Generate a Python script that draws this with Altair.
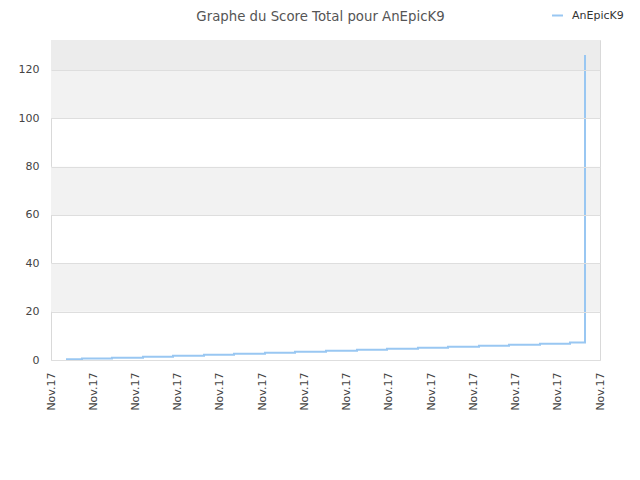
import json
import altair as alt
import pandas as pd

title_text = "Graphe du Score Total pour AnEpicK9"
series_name = "AnEpicK9"

# x positions in tick units (0..13), each tick labelled "Nov.17"
x_ticks = list(range(14))
x_tick_labels = ["Nov.17"] * 14
y_ticks = [0, 20, 40, 60, 80, 100, 120]

step_x = [0.355, 0.734, 1.444, 2.179, 2.889, 3.623, 4.333, 5.067, 5.778,
          6.512, 7.246, 7.956, 8.690, 9.401, 10.135, 10.845, 11.579, 12.290]
step_y = [0.3, 0.6, 0.95, 1.35, 1.75, 2.15, 2.6, 3.0, 3.45,
          3.85, 4.25, 4.7, 5.1, 5.5, 5.9, 6.3, 6.75, 7.2]
jump_x = 12.645
jump_y = [21.8, 41.0, 66.1, 93.8, 126.2]

band_lo = [20, 60, 100, 120]
band_hi = [40, 80, 120, 132.4]
band_col = ["#f2f2f2", "#f2f2f2", "#f2f2f2", "#ececec"]

xs = step_x + [jump_x] * len(jump_y)
ys = step_y + jump_y
line_df = pd.DataFrame({"x": xs, "y": ys, "i": list(range(len(xs))),
                        "s": [series_name] * len(xs)})
band_df = pd.DataFrame({"lo": band_lo, "hi": band_hi, "c": band_col})

FONT = "DejaVu Sans"
ydom = [0, 132.4]
xscale = alt.Scale(domain=[0, 13], nice=False, zero=False)
yscale = alt.Scale(domain=ydom, nice=False, zero=False)

yaxis = alt.Axis(values=y_ticks, ticks=False, domain=False, labelPadding=12,
                 labelFont=FONT, labelFontSize=11, labelColor="#444444",
                 gridColor="#dedede", zindex=1)

bands = alt.Chart(band_df).mark_rect(strokeWidth=0).encode(
    x=alt.value(0), x2=alt.value(549),
    y=alt.Y("lo:Q", scale=yscale, axis=yaxis, title=None),
    y2="hi:Q",
    fill=alt.Fill("c:N", scale=None, legend=None),
)

label_expr = json.dumps(x_tick_labels) + "[datum.value]"

line = alt.Chart(line_df).mark_line(interpolate="step-after", strokeWidth=2).encode(
    x=alt.X("x:Q", scale=xscale, title=None,
            axis=alt.Axis(values=x_ticks, labelExpr=label_expr, labelAngle=-90,
                          labelAlign="right", labelBaseline="middle",
                          labelPadding=12, ticks=False, domain=False, grid=False,
                          labelFont=FONT, labelFontSize=11, labelColor="#444444")),
    y=alt.Y("y:Q", scale=yscale, title=None, axis=yaxis),
    order="i:Q",
    color=alt.Color("s:N", scale=alt.Scale(range=["#99c7f2"]), title=None,
                    legend=alt.Legend(orient="none", legendX=500, legendY=-31,
                                      symbolType="stroke", symbolStrokeWidth=2,
                                      symbolSize=120, padding=0, labelOffset=8,
                                      labelFont=FONT, labelFontSize=11,
                                      labelColor="#333333")),
)

chart = alt.layer(bands, line).resolve_scale(color="independent").properties(
    width=549, height=320,
    autosize="none",
    padding={"left": 43, "top": 32, "right": 24, "bottom": 100},
    title=alt.Title(title_text, font=FONT, fontSize=13.3, fontWeight="normal",
                    color="#555555", anchor="middle", dx=-5, offset=-14),
).configure_view(stroke="#d9d9d9", strokeWidth=1)

chart.save("out.html", embed_options={"renderer": "svg", "actions": False})
